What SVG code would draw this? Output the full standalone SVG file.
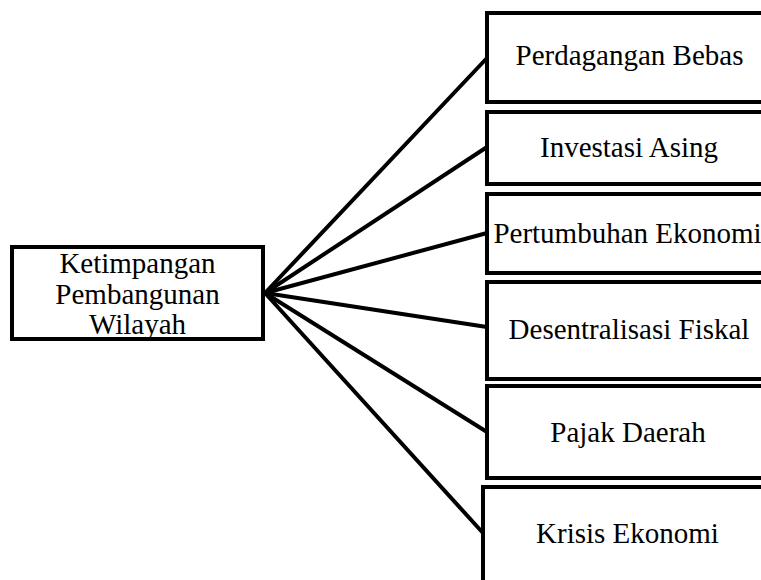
<svg xmlns="http://www.w3.org/2000/svg" width="761" height="580" viewBox="0 0 761 580">
<style>
.box{fill:#fff;stroke:#000;stroke-width:4}
.t{font-family:"Liberation Serif","Times New Roman",serif;font-size:29px;fill:#000;text-anchor:middle}
.c{stroke:#000;stroke-width:4;fill:none;stroke-linecap:round}
</style>
<rect width="761" height="580" fill="#fff"/>
<g id="connectors">
<line class="c" x1="265" y1="293" x2="487" y2="58"/>
<line class="c" x1="265" y1="293" x2="487" y2="147"/>
<line class="c" x1="265" y1="293" x2="487" y2="233"/>
<line class="c" x1="265" y1="293" x2="487" y2="327"/>
<line class="c" x1="265" y1="293" x2="487" y2="432"/>
<line class="c" x1="265" y1="293" x2="483" y2="533"/>
</g>
<g id="ketimpangan">
<rect class="box" x="12" y="247" width="251" height="92"/>
<text class="t" x="137.5" y="273">Ketimpangan</text>
<text class="t" x="137.5" y="304">Pembangunan</text>
<text class="t" x="137.5" y="334">Wilayah</text>
</g>
<g id="perdagangan">
<rect class="box" x="487" y="13" width="290" height="89"/>
<text class="t" x="629.5" y="65">Perdagangan Bebas</text>
</g>
<g id="investasi">
<rect class="box" x="487" y="112" width="290" height="72"/>
<text class="t" x="629" y="157">Investasi Asing</text>
</g>
<g id="pertumbuhan">
<rect class="box" x="487" y="194" width="290" height="79"/>
<text class="t" x="627.5" y="243">Pertumbuhan Ekonomi</text>
</g>
<g id="desentralisasi">
<rect class="box" x="487" y="282" width="290" height="97"/>
<text class="t" x="629" y="339">Desentralisasi Fiskal</text>
</g>
<g id="pajak">
<rect class="box" x="487" y="386" width="290" height="92"/>
<text class="t" x="628" y="442">Pajak Daerah</text>
</g>
<g id="krisis">
<rect class="box" x="483" y="487" width="300" height="110"/>
<text class="t" x="627.5" y="543">Krisis Ekonomi</text>
</g>
</svg>
